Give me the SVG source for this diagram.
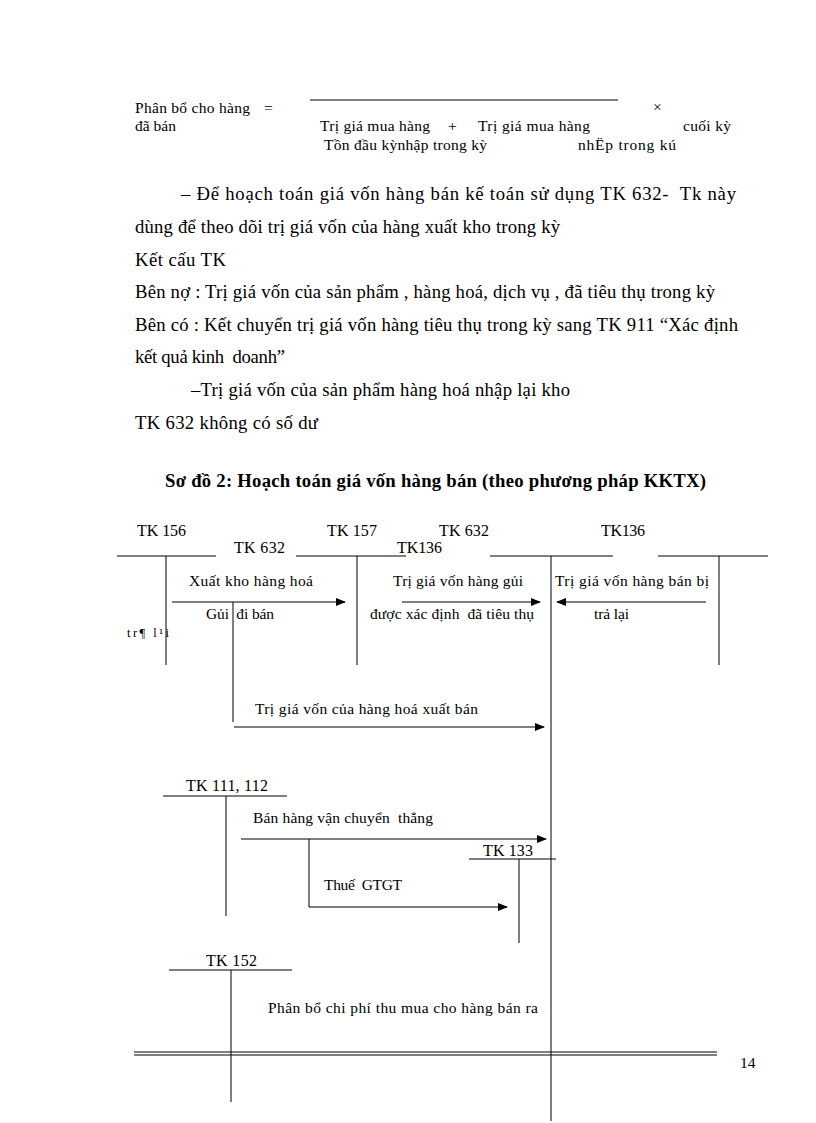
<svg xmlns="http://www.w3.org/2000/svg" width="816" height="1123" viewBox="0 0 816 1123">
<style>
text{font-family:"Liberation Serif","Times New Roman",serif;fill:#000;white-space:pre}
.f{font-size:15.5px}
.b{font-size:18.7px}
.t{font-size:18.7px;font-weight:bold}
.l{font-size:16px}
.s{font-size:15.5px}
.ln{stroke:#000;stroke-width:1;fill:none}
.ar{stroke:#000;stroke-width:1;fill:none;marker-end:url(#ah)}
</style>
<defs>
<marker id="ah" markerWidth="10" markerHeight="8" refX="9" refY="4" orient="auto" markerUnits="userSpaceOnUse">
<path d="M0,0 L10,4 L0,8 Z" fill="#000"/>
</marker>
</defs>
<rect width="816" height="1123" fill="#fff"/>

<g id="formula">
<text class="f" x="135" y="113" textLength="115" lengthAdjust="spacing">Phân bổ cho hàng</text>
<text class="f" x="264" y="113">=</text>
<text class="f" x="135" y="131">đã bán</text>
<line class="ln" x1="310" y1="100" x2="618" y2="100"/>
<text class="f" x="653" y="112">×</text>
<text class="f" x="320" y="131" textLength="110" lengthAdjust="spacing">Trị giá mua hàng</text>
<text class="f" x="448" y="131">+</text>
<text class="f" x="478" y="131" textLength="112" lengthAdjust="spacing">Trị giá mua hàng</text>
<text class="f" x="683" y="131" textLength="48" lengthAdjust="spacing">cuối kỳ</text>
<text class="f" x="324" y="150" textLength="163" lengthAdjust="spacing">Tồn đầu kỳnhập trong kỳ</text>
<text class="f" x="578" y="150" textLength="98" lengthAdjust="spacing">nhËp trong kú</text>
</g>

<g id="body">
<text class="b" x="181" y="200" textLength="555" lengthAdjust="spacing">– Để hoạch toán giá vốn hàng bán kế toán sử dụng TK 632-  Tk này</text>
<text class="b" x="135" y="233" textLength="425" lengthAdjust="spacing">dùng để theo dõi trị giá vốn của hàng xuất kho trong kỳ</text>
<text class="b" x="135" y="266" textLength="91" lengthAdjust="spacing">Kết cấu TK</text>
<text class="b" x="135" y="298" textLength="580" lengthAdjust="spacing">Bên nợ : Trị giá vốn của sản phẩm , hàng hoá, dịch vụ , đã tiêu thụ trong kỳ</text>
<text class="b" x="135" y="331" textLength="603" lengthAdjust="spacing">Bên có : Kết chuyển trị giá vốn hàng tiêu thụ trong kỳ sang TK 911 “Xác định</text>
<text class="b" x="135" y="363" textLength="150" lengthAdjust="spacing">kết quả kinh  doanh”</text>
<text class="b" x="191" y="396" textLength="379" lengthAdjust="spacing">–Trị giá vốn của sản phẩm hàng hoá nhập lại kho</text>
<text class="b" x="135" y="429" textLength="183" lengthAdjust="spacing">TK 632 không có số dư</text>
<text class="t" x="165" y="487" textLength="541" lengthAdjust="spacing">Sơ đồ 2: Hoạch toán giá vốn hàng bán (theo phương pháp KKTX)</text>
</g>

<g id="tk156">
<text class="l" x="137" y="536" textLength="49" lengthAdjust="spacing">TK 156</text>
<line class="ln" x1="117" y1="556" x2="216" y2="556"/>
<line class="ln" x1="166" y1="556" x2="166" y2="665"/>
<text x="127" y="637" font-size="12.5" textLength="42" lengthAdjust="spacing">tr¶ l¹i</text>
</g>

<g id="tk632a">
<text class="l" x="234" y="553" textLength="51" lengthAdjust="spacing">TK 632</text>
<line class="ln" x1="233" y1="602" x2="233" y2="722"/>
</g>

<g id="tk157">
<text class="l" x="327" y="536" textLength="50" lengthAdjust="spacing">TK 157</text>
<text class="l" x="397" y="553" textLength="45" lengthAdjust="spacing">TK136</text>
<line class="ln" x1="296" y1="556" x2="406" y2="556"/>
<line class="ln" x1="357" y1="556" x2="357" y2="665"/>
</g>

<g id="tk632">
<text class="l" x="439" y="536" textLength="50" lengthAdjust="spacing">TK 632</text>
<line class="ln" x1="490" y1="556" x2="613" y2="556"/>
<line class="ln" x1="551" y1="556" x2="551" y2="1121"/>
</g>

<g id="tk136">
<text class="l" x="601" y="536" textLength="44" lengthAdjust="spacing">TK136</text>
<line class="ln" x1="658" y1="556" x2="768" y2="556"/>
<line class="ln" x1="719" y1="556" x2="719" y2="665"/>
</g>

<g id="tk111">
<text class="l" x="186" y="791" textLength="82" lengthAdjust="spacing">TK 111, 112</text>
<line class="ln" x1="163" y1="796" x2="287" y2="796"/>
<line class="ln" x1="226" y1="796" x2="226" y2="916"/>
</g>

<g id="tk133">
<text class="l" x="483" y="856" textLength="50" lengthAdjust="spacing">TK 133</text>
<line class="ln" x1="469" y1="859" x2="556" y2="859"/>
<line class="ln" x1="519" y1="859" x2="519" y2="943"/>
</g>

<g id="tk152">
<text class="l" x="206" y="966" textLength="51" lengthAdjust="spacing">TK 152</text>
<line class="ln" x1="169" y1="970" x2="292" y2="970"/>
<line class="ln" x1="231" y1="970" x2="231" y2="1102"/>
</g>

<g id="connectors">
<line class="ar" x1="172" y1="602" x2="345" y2="602"/>
<text class="s" x="189" y="586" textLength="124" lengthAdjust="spacing">Xuất kho hàng hoá</text>
<text class="s" x="206" y="619" textLength="68" lengthAdjust="spacing">Gủi  đi bán</text>

<line class="ar" x1="402" y1="602" x2="540" y2="602"/>
<text class="s" x="393" y="586" textLength="130" lengthAdjust="spacing">Trị giá vốn hàng gủi</text>
<text class="s" x="370" y="619" textLength="164" lengthAdjust="spacing">được xác định  đã tiêu thụ</text>

<line class="ar" x1="706" y1="602" x2="557" y2="602"/>
<text class="s" x="555" y="586" textLength="154" lengthAdjust="spacing">Trị giá vốn hàng bán bị</text>
<text class="s" x="594" y="619" textLength="35" lengthAdjust="spacing">trả lại</text>

<line class="ar" x1="234" y1="727" x2="544" y2="727"/>
<text class="s" x="255" y="714" textLength="223" lengthAdjust="spacing">Trị giá vốn của hàng hoá xuất bán</text>

<line class="ar" x1="241" y1="839" x2="546" y2="839"/>
<text class="s" x="253" y="823" textLength="180" lengthAdjust="spacing">Bán hàng vận chuyển  thẳng</text>

<line class="ln" x1="309" y1="839" x2="309" y2="907"/>
<line class="ar" x1="309" y1="907" x2="507" y2="907"/>
<text class="s" x="324" y="890" textLength="78" lengthAdjust="spacing">Thuế  GTGT</text>

<text class="s" x="268" y="1013" textLength="270" lengthAdjust="spacing">Phân bổ chi phí thu mua cho hàng bán ra</text>
</g>

<g id="footer">
<line class="ln" x1="134" y1="1052" x2="717" y2="1052"/>
<line class="ln" x1="134" y1="1055" x2="717" y2="1055"/>
<text class="s" x="740" y="1068">14</text>
</g>
</svg>
